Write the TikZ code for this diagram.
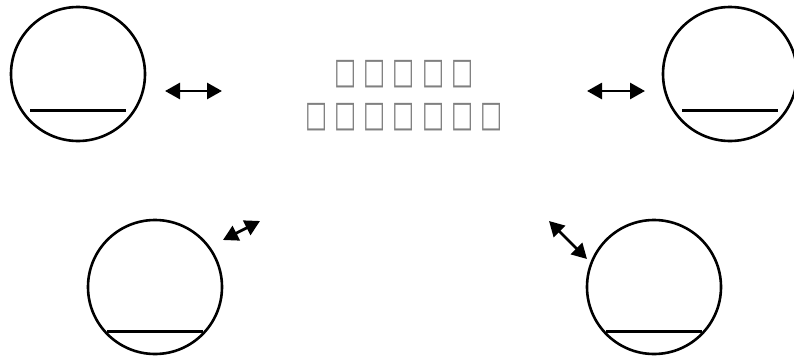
\documentclass[tikz,border=0pt]{standalone}
\usepackage{fontspec}
\newfontfamily\boxfont[FakeStretch=0.65]{DejaVu Sans}
\newcommand{\tofugap}{\kern7.1pt}
\usetikzlibrary{arrows.meta,positioning}
\begin{document}
\begin{tikzpicture}[
                            x=1pt, y=1pt,
                            >={Triangle[length=15pt,width=16pt]},
                            unit/.style={circle, draw, line width=2.6pt, minimum size=134pt, inner sep=0pt},
                            base/.style={line width=3pt},
                            link/.style={<->, line width=2.8pt},
                            caption/.style={text=gray, font=\boxfont\fontsize{36}{43}\selectfont, inner sep=0pt}
                        ]
                        \useasboundingbox (0,0) rectangle (794,360);
                        % Units
                        \node [unit] (TL) at (78,286) {};
                        \node [unit] (TR) at (730,286) {};
                        \node [unit] (BL) at (155,73) {};
                        \node [unit] (BR) at (654,73) {};
                        \foreach \u in {TL,TR}
                            \draw [base] ([shift={(-48,-36)}]\u.center) -- ([shift={(48,-36)}]\u.center);
                        \foreach \u in {BL,BR}
                            \draw [base] ([shift={(-48,-44)}]\u.center) -- ([shift={(48,-44)}]\u.center);

                        % Label
                        \node [caption] (title) at (404,286)
                            {□\tofugap□\tofugap□\tofugap□\tofugap□};
                        \node [caption] (subtitle) at (404,243)
                            {□\tofugap□\tofugap□\tofugap□\tofugap□\tofugap□\tofugap□};

                        % Connections
                        \coordinate (a1) at (165,269);
                        \coordinate (b1) at (222,269);
                        \coordinate (a2) at (587,269);
                        \coordinate (b2) at (645,269);
                        \coordinate (a3) at (223,120);
                        \coordinate (b3) at (260,139);
                        \coordinate (a4) at (549,139);
                        \coordinate (b4) at (587,101);
                        \draw [link] (a1) -- (b1);
                        \draw [link] (a2) -- (b2);
                        \draw [link] (a3) -- (b3);
                        \draw [link] (a4) -- (b4);
                    \end{tikzpicture}
\end{document}
